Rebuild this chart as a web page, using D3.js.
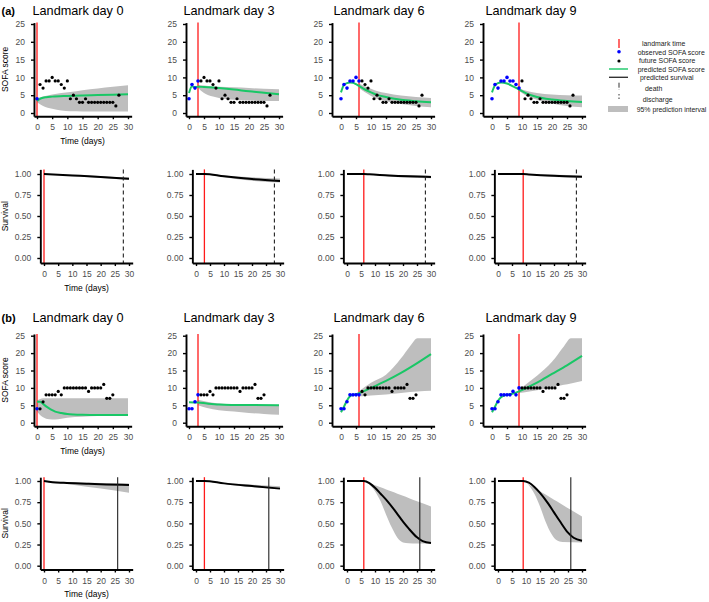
<!DOCTYPE html>
<html>
<head>
<meta charset="utf-8">
<script src="https://cdnjs.cloudflare.com/ajax/libs/d3/7.8.5/d3.min.js"></script>
<style>
  body { margin: 0; background: #fff; }
  svg { display: block; font-family: "Liberation Sans", Arial, sans-serif; }
</style>
</head>
<body>
<div id="chart"></div>
<script>
const width = 709;
const height = 602;

// ---- data ----
const landmarks = [0, 3, 6, 9];
const dayTicks = [0, 5, 10, 15, 20, 25, 30];
const sofaTicks = [0, 5, 10, 15, 20, 25];
const survTicks = [0, 0.25, 0.5, 0.75, 1];

// patient (a): daily SOFA scores
const sofaDaysA = [0,1,2,3,4,5,6,7,8,9,10,11,12,13,14,15,16,17,18,19,20,21,22,23,24,25,26,27];
const sofaA     = [4,8,7,9,9,10,9,9,8,7,9,4,5,4,3,3,4,3,3,3,3,3,3,3,3,3,2,5];
// patient (b): daily SOFA scores
const sofaDaysB = [0,1,2,3,4,5,6,7,8,9,10,11,12,13,14,15,16,17,18,19,20,21,22,23,24,25];
const sofaB     = [4,4,6,8,8,8,8,9,8,10,10,10,10,10,10,10,10,9,10,10,10,10,11,7,7,8];

const dischargeDayA = 28;
const deathDayB = 26;

// predicted SOFA [day, value] and 95% band [day, lo, hi], one per landmark
const predSofaA0 = [[0,3.4],[1,4.0],[2,4.3],[3,4.45],[5,4.6],[10,4.8],[15,4.95],[20,5.05],[25,5.15],[30,5.3]];
const bandSofaA0 = [[0,3.0,4.1],[2,2.0,4.6],[5,1.2,5.2],[8,0.7,5.6],[11,0.5,5.9],[15,0.45,6.4],[20,0.4,6.9],[25,0.4,7.4],[30,0.4,7.8]];
const predSofaA3 = [[0,5.6],[1,7.5],[2,7.2],[3,7.4],[5,7.3],[10,7.0],[15,6.6],[20,6.1],[25,5.7],[30,5.3]];
const bandSofaA3 = [[3,7.0,7.9],[5,5.6,7.7],[8,4.6,7.5],[10,4.2,7.4],[15,3.7,7.2],[20,3.5,7.0],[25,3.4,6.8],[30,3.4,6.7]];
const predSofaA6 = [[0,5.8],[1,7.9],[2,8.4],[3,8.6],[4,8.5],[5,8.1],[6,7.6],[8,6.6],[10,5.8],[12,5.1],[15,4.5],[20,3.7],[25,3.3],[30,3.0]];
const bandSofaA6 = [[6,7.0,8.3],[8,5.8,7.5],[10,4.8,6.8],[12,4.0,6.2],[15,3.3,5.6],[20,2.5,4.9],[25,2.0,4.5],[30,1.6,4.2]];
const predSofaA9 = [[0,5.8],[1,7.8],[2,8.4],[3,8.6],[5,8.3],[7,7.5],[9,6.6],[12,5.3],[15,4.5],[20,3.8],[25,3.4],[30,3.1]];
const bandSofaA9 = [[9,6.2,6.9],[12,4.6,6.1],[15,3.7,5.6],[20,2.7,5.2],[25,2.0,5.0],[30,1.6,4.9]];

const predSofaB0 = [[0,6.0],[1,6.0],[2,5.4],[3,4.7],[4,4.1],[5,3.6],[6,3.2],[8,2.8],[10,2.5],[12,2.35],[15,2.25],[20,2.2],[30,2.2]];
const bandSofaB0 = [[0,3.2,6.4],[1,2.2,6.8],[2,1.6,7.0],[4,1.0,7.0],[6,0.9,7.0],[8,1.1,7.0],[10,1.4,7.0],[15,1.7,7.0],[20,1.9,7.0],[30,1.9,7.0]];
const predSofaB3 = [[0,5.9],[3,5.8],[6,5.5],[10,5.2],[15,5.1],[30,5.0]];
const bandSofaB3 = [[3,5.0,6.6],[6,4.2,6.0],[10,3.6,5.5],[15,3.2,5.3],[20,2.8,5.2],[25,2.5,5.1],[30,2.3,5.1]];
const predSofaB6 = [[0,3.0],[1,4.6],[2,6.4],[3,7.6],[4,8.0],[5,8.2],[6,8.5],[10,10.0],[15,12.0],[20,14.3],[25,16.9],[30,19.7]];
const bandSofaB6 = [[6,7.6,9.0],[8,7.7,10.3],[10,7.8,11.5],[15,8.1,13.8],[20,8.5,18.5],[23,8.8,22.0],[25.5,9.0,24.3],[30,9.2,24.3]];
const predSofaB9 = [[0,3.0],[1,4.6],[2,6.3],[3,7.3],[4,7.8],[5,8.0],[7,8.4],[9,9.0],[12,10.2],[15,11.5],[20,14.0],[25,16.5],[30,19.2]];
const bandSofaB9 = [[9,8.5,9.5],[12,8.9,11.5],[15,9.3,13.5],[20,10.2,17.5],[24,10.9,22.0],[26.3,11.3,24.3],[30,12.0,24.3]];

// predicted survival [day, S] and band [day, lo, hi]
const survA0 = [[0,1],[10,0.983],[20,0.965],[30,0.944]];
const survBandA0 = [[0,1,1],[15,0.965,0.985],[25,0.94,0.965],[30,0.928,0.958]];
const survA3 = [[0,1],[3,1],[10,0.972],[20,0.94],[30,0.918]];
const survBandA3 = [[3,1,1],[10,0.96,0.982],[20,0.92,0.96],[30,0.9,0.945]];
const survA6 = [[0,1],[6,1],[8,0.997],[15,0.982],[22,0.972],[30,0.965]];
const survBandA6 = [[6,1,1],[15,0.97,0.99],[30,0.948,0.98]];
const survA9 = [[0,1],[9,1],[11,0.995],[20,0.978],[30,0.968]];
const survBandA9 = [[9,1,1],[20,0.965,0.99],[30,0.955,0.982]];

const survB0 = [[0,1],[3,0.985],[7,0.978],[15,0.968],[22,0.96],[30,0.953]];
const survBandB0 = [[0,1,1],[10,0.955,0.985],[20,0.91,0.975],[30,0.86,0.97]];
const survB3 = [[0,1],[3,1],[10,0.972],[20,0.94],[30,0.91]];
const survBandB3 = [[3,1,1],[15,0.945,0.968],[30,0.905,0.938]];
const survB6 = [[0,1],[6,1],[8,0.975],[10,0.92],[12,0.85],[15,0.74],[18,0.61],[20,0.52],[22,0.44],[25,0.335],[27,0.29],[30,0.268]];
const survBandB6 = [[6,1,1],[8,0.96,0.975],[10,0.88,0.95],[12,0.76,0.925],[14,0.6,0.9],[16,0.45,0.875],[18,0.33,0.85],[20,0.275,0.825],[22,0.265,0.8],[25,0.262,0.76],[30,0.262,0.7]];
const survB9 = [[0,1],[9,1],[11,0.98],[13,0.93],[15,0.86],[18,0.73],[20,0.63],[22,0.53],[25,0.39],[27,0.33],[30,0.295]];
const survBandB9 = [[9,1,1],[11,0.95,0.96],[13,0.85,0.92],[15,0.7,0.88],[17,0.52,0.84],[19,0.38,0.8],[21,0.3,0.76],[23,0.28,0.72],[30,0.275,0.58]];

const legendLabels = ["landmark time", "observed SOFA score", "future SOFA score", "predicted SOFA score",
                      "predicted survival", "death", "discharge", "95% prediction interval"];

// ---- layout ----
const redCol = "#ff1a1a";
const greenCol = "#19c766";
const bandCol = "#bebebe";
const tickCol = "#4d4d4d";

const sofaCols = [{d0: 37, d30: 128, lo: -1}, {d0: 189, d30: 279, lo: -1}, {d0: 341, d30: 431, lo: -3}, {d0: 492, d30: 582, lo: -3}];
const survCols = [{d0: 44, d30: 129, lo: -1.3}, {d0: 196, d30: 280, lo: -1.3}, {d0: 347, d30: 431, lo: -1.3}, {d0: 498, d30: 582, lo: -1.3}];

const rows = [
  {tag: "(a)", titleY: 10.7,
   sofaY: {p0: 113, pTop: 24, top: 25, lo: -0.9, hi: 25.4},
   survY: {p0: 258, pTop: 174, top: 1, lo: -0.06, hi: 1.055},
   days: sofaDaysA, scores: sofaA, pred: [predSofaA0, predSofaA3, predSofaA6, predSofaA9], band: [bandSofaA0, bandSofaA3, bandSofaA6, bandSofaA9],
   surv: [survA0, survA3, survA6, survA9], survBand: [survBandA0, survBandA3, survBandA6, survBandA9], event: dischargeDayA, dashed: true},
  {tag: "(b)", titleY: 318,
   sofaY: {p0: 422.7, pTop: 335.7, top: 25, lo: -1, hi: 25.5},
   survY: {p0: 565.7, pTop: 481, top: 1, lo: -0.045, hi: 1.045},
   days: sofaDaysB, scores: sofaB, pred: [predSofaB0, predSofaB3, predSofaB6, predSofaB9], band: [bandSofaB0, bandSofaB3, bandSofaB6, bandSofaB9],
   surv: [survB0, survB3, survB6, survB9], survBand: [survBandB0, survBandB3, survBandB6, survBandB9], event: deathDayB, dashed: false}
];

function makeX(c, hi) {
  const k = (c.d30 - c.d0) / 30;
  return d3.scaleLinear().domain([c.lo, hi]).range([c.d0 + c.lo * k, c.d0 + hi * k]);
}
function makeY(r) {
  const k = (r.p0 - r.pTop) / r.top;
  return d3.scaleLinear().domain([r.lo, r.hi]).range([r.p0 - r.lo * k, r.p0 - r.hi * k]);
}

const svg = d3.select("#chart").append("svg")
    .attr("width", width)
    .attr("height", height);

function drawAxes(g, x, y, yTicks, yFmt) {
  const xa = g.append("g")
      .attr("transform", "translate(0," + y.range()[0] + ")")
      .call(d3.axisBottom(x).tickValues(dayTicks).tickSize(3).tickSizeOuter(0).tickPadding(5));
  const ya = g.append("g")
      .attr("transform", "translate(" + x.range()[0] + ",0)")
      .call(d3.axisLeft(y).tickValues(yTicks).tickFormat(yFmt).tickSize(3).tickSizeOuter(0).tickPadding(6));
  [xa, ya].forEach(a => {
    a.select(".domain").attr("stroke", "#000").attr("stroke-width", 1.9);
    a.selectAll(".tick line").attr("stroke", "#000").attr("stroke-width", 1.4);
    a.selectAll(".tick text").attr("fill", tickCol).attr("font-size", 8.5)
        .attr("font-family", "'Liberation Sans', Arial, sans-serif");
  });
}

function vline(g, x, y, day, color, width, dash) {
  g.append("line")
      .attr("x1", x(day)).attr("x2", x(day))
      .attr("y1", y.range()[1]).attr("y2", y.range()[0])
      .attr("stroke", color).attr("stroke-width", width)
      .attr("stroke-dasharray", dash || null);
}

rows.forEach(row => {
  // panel tag
  svg.append("text").attr("x", 1.5).attr("y", row.titleY).attr("dy", "0.35em")
      .attr("font-size", 11).attr("font-weight", "bold").text(row.tag);

  landmarks.forEach((lm, ci) => {
    // ---- SOFA panel ----
    const x = makeX(sofaCols[ci], 31.2);
    const y = makeY(row.sofaY);
    const g = svg.append("g");

    g.append("text")
        .attr("x", [78, 229, 379, 531][ci]).attr("y", row.titleY).attr("dy", "0.35em")
        .attr("text-anchor", "middle").attr("font-size", 12.7)
        .text("Landmark day " + lm);

    g.append("path")
        .datum(row.band[ci])
        .attr("fill", bandCol)
        .attr("d", d3.area().x(d => x(d[0])).y0(d => y(d[1])).y1(d => y(d[2])).curve(d3.curveMonotoneX));

    vline(g, x, y, lm, redCol, 1.3);

    g.append("path")
        .datum(row.pred[ci])
        .attr("fill", "none").attr("stroke", greenCol).attr("stroke-width", 2)
        .attr("d", d3.line().x(d => x(d[0])).y(d => y(d[1])).curve(d3.curveMonotoneX));

    g.selectAll(".pt")
        .data(row.days.map((d, i) => [d, row.scores[i]]))
        .enter().append("circle")
        .attr("cx", d => x(d[0])).attr("cy", d => y(d[1]))
        .attr("r", d => d[0] <= lm ? 1.8 : 1.6)
        .attr("fill", d => d[0] <= lm ? "#0000ff" : "#000");

    drawAxes(g, x, y, sofaTicks, d3.format("d"));

    // ---- survival panel ----
    const xs = makeX(survCols[ci], 31.3);
    const ys = makeY(row.survY);
    const gs = svg.append("g");

    gs.append("path")
        .datum(row.survBand[ci])
        .attr("fill", bandCol)
        .attr("d", d3.area().x(d => xs(d[0])).y0(d => ys(d[1])).y1(d => ys(d[2])).curve(d3.curveMonotoneX));

    vline(gs, xs, ys, lm, redCol, 1.3);

    gs.append("path")
        .datum(row.surv[ci])
        .attr("fill", "none").attr("stroke", "#000").attr("stroke-width", 2)
        .attr("d", d3.line().x(d => xs(d[0])).y(d => ys(d[1])).curve(d3.curveMonotoneX));

    vline(gs, xs, ys, row.event, "#222", 1.1, row.dashed ? "4,3" : null);

    drawAxes(gs, xs, ys, survTicks, d3.format(".2f"));

    if (ci === 0) {
      const sofaMid = (y.range()[0] + y.range()[1]) / 2;
      const survMid = (ys.range()[0] + ys.range()[1]) / 2;
      g.append("text").attr("transform", "translate(5," + sofaMid + ") rotate(-90)")
          .attr("dy", "0.35em").attr("text-anchor", "middle").attr("font-size", 8.5).text("SOFA score");
      gs.append("text").attr("transform", "translate(5," + survMid + ") rotate(-90)")
          .attr("dy", "0.35em").attr("text-anchor", "middle").attr("font-size", 8.5).text("Survival");
      g.append("text").attr("x", (x(0) + x(30)) / 2).attr("y", y.range()[0] + 24.5)
          .attr("dy", "0.35em").attr("text-anchor", "middle").attr("font-size", 8.5).text("Time (days)");
      gs.append("text").attr("x", (xs(0) + xs(30)) / 2).attr("y", ys.range()[0] + 25)
          .attr("dy", "0.35em").attr("text-anchor", "middle").attr("font-size", 8.5).text("Time (days)");
    }
  });
});

// ---- legend ----
const lg = svg.append("g");
const symX = 619;
const labelX = [642, 637.7, 639, 637.7, 640, 645, 642.7, 636.7];
const labelY = [43.7, 52.7, 61, 70, 78, 88.7, 99.3, 110];

lg.append("line").attr("x1", symX).attr("x2", symX).attr("y1", 39).attr("y2", 48)
    .attr("stroke", redCol).attr("stroke-width", 1.3);
lg.append("circle").attr("cx", symX).attr("cy", 51.7).attr("r", 1.8).attr("fill", "#0000ff");
lg.append("circle").attr("cx", symX).attr("cy", 61).attr("r", 1.6).attr("fill", "#000");
lg.append("line").attr("x1", 609).attr("x2", 628).attr("y1", 69).attr("y2", 69)
    .attr("stroke", greenCol).attr("stroke-width", 1.4);
lg.append("line").attr("x1", 609).attr("x2", 628).attr("y1", 77.3).attr("y2", 77.3)
    .attr("stroke", "#333").attr("stroke-width", 1.4);
lg.append("line").attr("x1", symX).attr("x2", symX).attr("y1", 82.7).attr("y2", 89.5)
    .attr("stroke", "#333").attr("stroke-width", 1).attr("stroke-dasharray", "5,1.5");
lg.append("line").attr("x1", symX).attr("x2", symX).attr("y1", 94).attr("y2", 100.5)
    .attr("stroke", "#333").attr("stroke-width", 1).attr("stroke-dasharray", "1.5,2");
lg.append("rect").attr("x", 608).attr("y", 106).attr("width", 20).attr("height", 6).attr("fill", bandCol);

lg.selectAll("text.lab")
    .data(legendLabels)
    .enter().append("text")
    .attr("x", (d, i) => labelX[i]).attr("y", (d, i) => labelY[i])
    .attr("dy", "0.35em").attr("font-size", 6.9).attr("fill", "#222")
    .text(d => d);
</script>
</body>
</html>
